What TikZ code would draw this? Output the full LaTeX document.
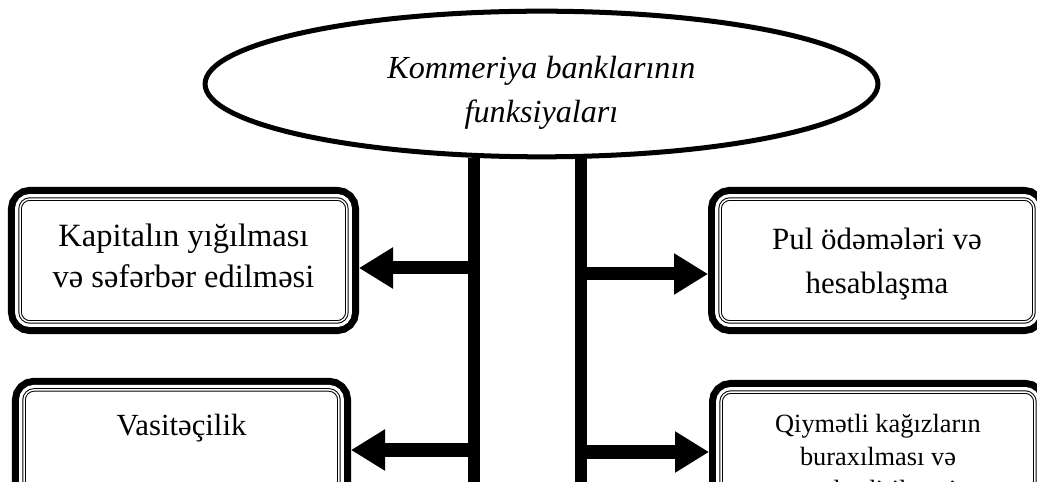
\documentclass[tikz,border=0pt]{standalone}
\usepackage{fontspec}
\setmainfont{Liberation Serif}
\usetikzlibrary{arrows.meta,shapes}
\tikzset{
    %Define standard arrow tip
    >={Triangle[length=19.4pt,width=22.2pt]},
    funksiya/.style={
      ellipse,
      draw=black, line width=2.85pt,
      minimum width=13.46cm,
      minimum height=2.78cm,
      font=\itshape\fontsize{18.3}{25}\selectfont,
      align=center},
    bolme/.style={
      rectangle,
      rounded corners=5.7pt,
      draw=black, line width=0.57pt,
      double=white, double distance=0.85pt,
      fill=white,
      preaction={draw=black, line width=13.7pt},
      preaction={draw=white, line width=5.7pt},
      outer sep=6.8pt,
      inner sep=0pt,
      align=center},
    xett/.style={
      draw=black, line width=7pt},
    ox/.style={
      ->, draw=black, line width=7.4pt},
}

\begin{document}
\begin{tikzpicture}[x=0.02cm, y=-0.02cm]
    \useasboundingbox (0,0) rectangle (1037,482);
    \clip (0,0) rectangle (1037,482);
    \node (funk) [funksiya, text height=48pt] at (541.5,84)
          {Kommeriya banklarının\\funksiyaları};
    \node (kapital) [bolme, minimum width=6.54cm, minimum height=2.46cm,
          text depth=5.7pt, font=\fontsize{18.5}{23.3}\selectfont] at (183.5,260.5)
          {Kapitalın yığılması\\və səfərbər edilməsi};
    \node (pul) [bolme, minimum width=6.28cm, minimum height=2.46cm,
          text depth=0pt, font=\fontsize{17.6}{25}\selectfont] at (877,260.5)
          {Pul ödəmələri və\\hesablaşma};
    \node (vasite) [bolme, minimum width=6.3cm, anchor=north,
          text height=12pt, text depth=40pt, inner ysep=14pt,
          font=\fontsize{17.5}{21}\selectfont] at (181.5,378)
          {Vasitəçilik};
    \node (qiymetli) [bolme, minimum width=6.28cm, minimum height=2.68cm,
          font=\fontsize{15}{18.8}\selectfont] at (878,459)
          {Qiymətli kağızların\\buraxılması və\\yerləşdirilməsi};
    % vertical bars
    \coordinate (sol1) at (474,158);
    \coordinate (sol2) at (474,490);
    \coordinate (sag1) at (581,158);
    \coordinate (sag2) at (581,490);
    \draw [xett] (sol1) -- (sol2);
    \draw [xett] (sag1) -- (sag2);
    % arrows to the boxes
    \coordinate (ox1) at (474,268);
    \coordinate (ox2) at (581,274);
    \coordinate (ox3) at (474,450);
    \coordinate (ox4) at (581,452);
    \draw [ox] (ox1) -- (ox1 -| kapital.east);
    \draw [ox] (ox2) -- (ox2 -| pul.west);
    \draw [ox] (ox3) -- (ox3 -| vasite.east);
    \draw [ox] (ox4) -- (ox4 -| qiymetli.west);
\end{tikzpicture}
\end{document}
